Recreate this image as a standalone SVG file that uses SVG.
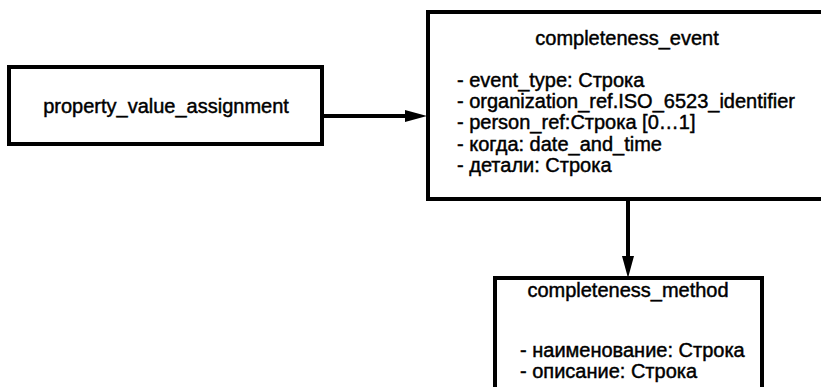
<svg xmlns="http://www.w3.org/2000/svg" width="821" height="387" viewBox="0 0 821 387">
<style>
.box{fill:#fff;stroke:#000;stroke-width:4}
.t{font-family:"Liberation Sans",Arial,sans-serif;font-size:20px;fill:#000;stroke:#000;stroke-width:0.45}
.c{text-anchor:middle}
.conn{fill:none;stroke:#000;stroke-width:4}
</style>
<defs>
<marker id="arr" viewBox="0 0 22 12" refX="0" refY="6" markerWidth="22" markerHeight="12" markerUnits="userSpaceOnUse" orient="auto">
<path d="M0,0 L22,6 L0,12 z" fill="#000"/>
</marker>
</defs>
<g id="connectors">
<line class="conn" x1="322" y1="116" x2="405" y2="116" marker-end="url(#arr)"/>
<line class="conn" x1="628" y1="200" x2="628" y2="256" marker-end="url(#arr)"/>
</g>
<g id="property_value_assignment">
<rect class="box" x="9" y="67" width="313" height="77"/>
<text class="t c" x="166" y="113">property_value_assignment</text>
</g>
<g id="completeness_event">
<rect class="box" x="428" y="12" width="400" height="187"/>
<text class="t c" x="627" y="45">completeness_event</text>
<text class="t" x="457" y="87">- event_type: Строка</text>
<text class="t" x="457" y="108">- organization_ref.ISO_6523_identifier</text>
<text class="t" x="457" y="129">- person_ref:Строка [0…1]</text>
<text class="t" x="457" y="151">- когда: date_and_time</text>
<text class="t" x="457" y="172">- детали: Строка</text>
</g>
<g id="completeness_method">
<rect class="box" x="495" y="278" width="267" height="130"/>
<text class="t c" x="628" y="297">completeness_method</text>
<text class="t" x="520" y="357">- наименование: Строка</text>
<text class="t" x="520" y="378">- описание: Строка</text>
</g>
</svg>
